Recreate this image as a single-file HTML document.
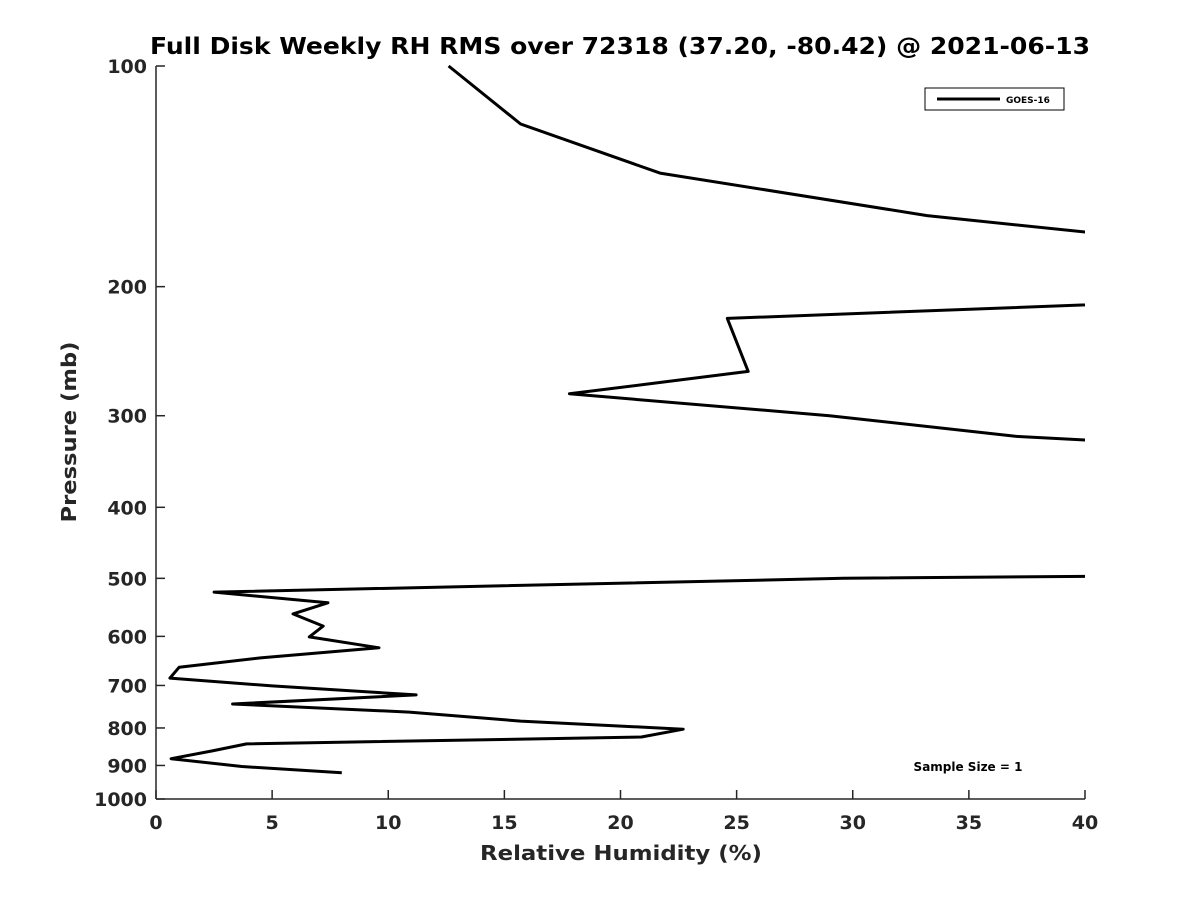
<!DOCTYPE html>
<html><head><meta charset="utf-8"><style>
body{margin:0;background:#fff;font-family:"DejaVu Sans",sans-serif}
</style></head><body>
<svg id="chart" width="1200" height="900" xmlns="http://www.w3.org/2000/svg" font-family="DejaVu Sans, Liberation Sans, sans-serif">
<rect width="1200" height="900" fill="#fff"/>
<defs><clipPath id="plotclip"><rect x="156" y="60" width="929" height="745"/></clipPath></defs>
<text x="620" y="54" text-anchor="middle" font-size="23" font-weight="bold" fill="#000" textLength="940" lengthAdjust="spacingAndGlyphs">Full Disk Weekly RH RMS over 72318 (37.20, -80.42) @ 2021-06-13</text>
<g id="axes"></g>
<path id="series" clip-path="url(#plotclip)" fill="none" stroke="#000" stroke-width="3" stroke-linejoin="round"/>
<text x="621" y="860" text-anchor="middle" font-size="20" font-weight="bold" fill="#262626" textLength="282" lengthAdjust="spacingAndGlyphs">Relative Humidity (%)</text>
<text transform="translate(76,432) rotate(-90)" text-anchor="middle" font-size="20" font-weight="bold" fill="#262626" textLength="181" lengthAdjust="spacingAndGlyphs">Pressure (mb)</text>
<g>
<rect x="925" y="88" width="139" height="22" fill="#fff" stroke="#000" stroke-width="1"/>
<line x1="937" y1="99" x2="1000" y2="99" stroke="#000" stroke-width="3"/>
<text x="1006" y="103" font-size="9" font-weight="bold">GOES-16</text>
</g>
<text x="968" y="771" text-anchor="middle" font-size="12" font-weight="bold">Sample Size = 1</text>
</svg>
<script>
const pressures=[100,120,140,160,175,200,206,221,261,280,300,320,330,494,500,522,540,559,581,601,622,642,661,684,701,721,742,761,783,803,823,841,860,881,903,921];
const rhValues=[12.6,15.7,21.7,33.2,45,55,50,24.6,25.5,17.8,29.0,37.0,45,50,29.6,2.5,7.4,5.9,7.2,6.6,9.6,4.5,1.0,0.6,5.0,11.2,3.3,10.9,15.7,22.7,20.9,3.9,2.4,0.65,3.7,8.0];
const xTicks=[0,5,10,15,20,25,30,35,40];
const yTicks=[100,200,300,400,500,600,700,800,900,1000];
const L=156,R=1085,T=66,B=799;
const xs=v=>L+(v-0)/(40-0)*(R-L);
const ys=p=>T+(Math.log10(p)-2)/(3-2)*(B-T);
const NS="http://www.w3.org/2000/svg";
const ax=document.getElementById('axes');
function mk(tag,attrs){const e=document.createElementNS(NS,tag);for(const k in attrs)e.setAttribute(k,attrs[k]);return e;}
let l=mk('line',{x1:L,y1:T,x2:L,y2:B,stroke:'#262626','stroke-width':1.5});

ax.appendChild(l);
l=mk('line',{x1:L,y1:B,x2:R,y2:B,stroke:'#262626','stroke-width':1.5});

ax.appendChild(l);
xTicks.forEach(v=>{
 const x=xs(v);
 const t=mk('line',{x1:x,y1:B,x2:x,y2:B-9,stroke:'#262626','stroke-width':1.5});
 
 ax.appendChild(t);
 const tx=mk('text',{x:x,y:B+30,'text-anchor':'middle','font-size':19,'font-weight':'bold',fill:'#262626'});
 tx.textContent=v;
 
 ax.appendChild(tx);
});
yTicks.forEach(p=>{
 const y=ys(p);
 const t=mk('line',{x1:L,y1:y,x2:L+9,y2:y,stroke:'#262626','stroke-width':1.5});
 
 ax.appendChild(t);
 const tx=mk('text',{x:L-9,y:y+7,'text-anchor':'end','font-size':19,'font-weight':'bold',fill:'#262626'});
 tx.textContent=p;
 
 ax.appendChild(tx);
});
document.getElementById('series').setAttribute('d',pressures.map((p,i)=>(i?'L':'M')+xs(rhValues[i]).toFixed(1)+','+ys(p).toFixed(1)).join(' '));
</script>
</body></html>
